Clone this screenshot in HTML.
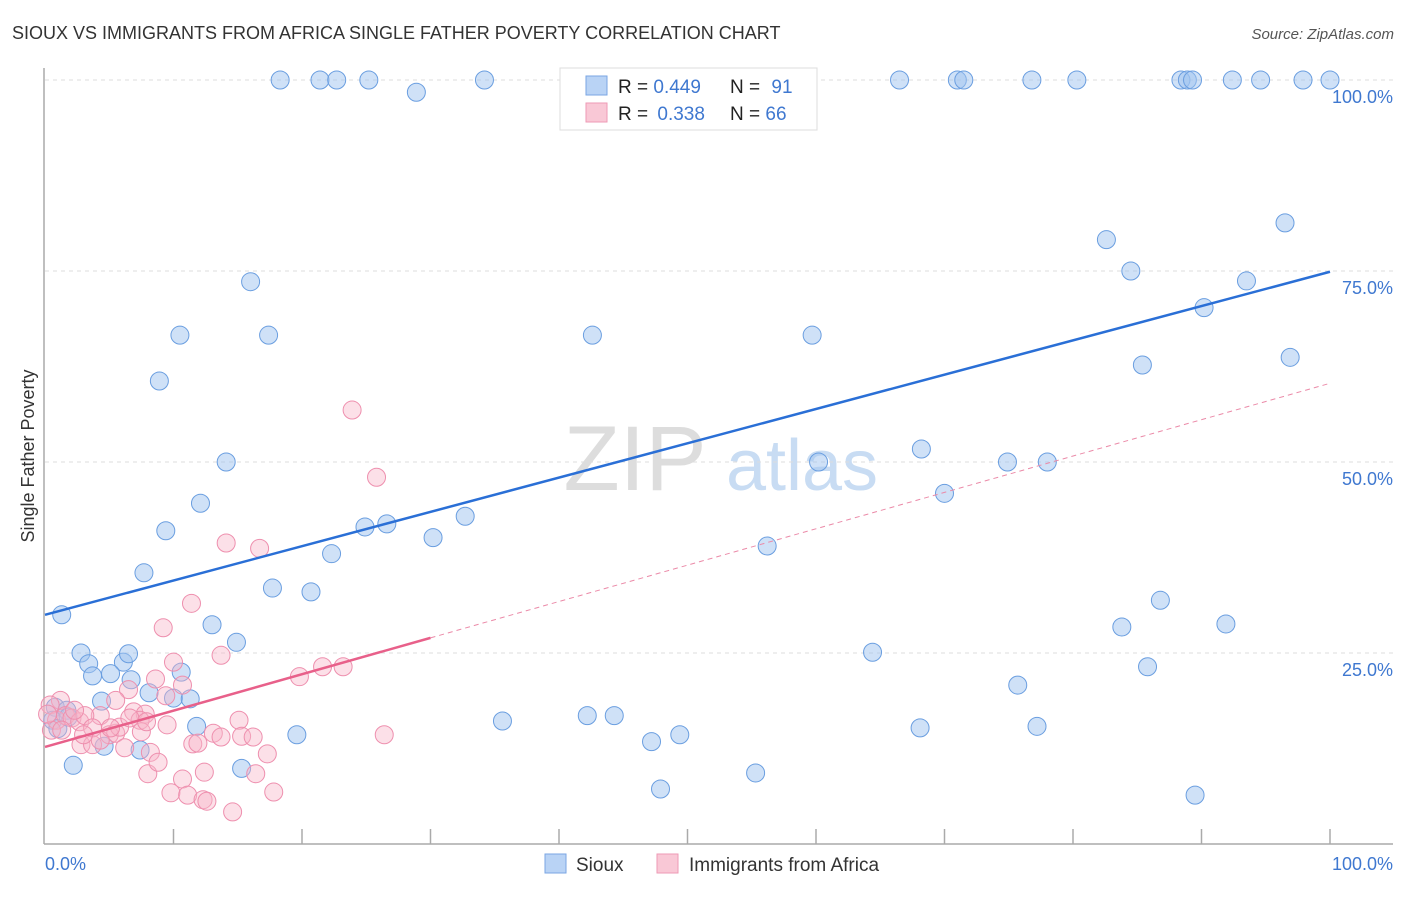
<!DOCTYPE html>
<html><head><meta charset="utf-8"><style>
body{margin:0;background:#fff;font-family:"Liberation Sans",sans-serif;}
svg text{font-family:"Liberation Sans",sans-serif;}
</style></head><body>
<svg width="1406" height="892" xmlns="http://www.w3.org/2000/svg">
<text x="12" y="39" font-size="18" fill="#333">SIOUX VS IMMIGRANTS FROM AFRICA SINGLE FATHER POVERTY CORRELATION CHART</text>
<text x="1394" y="39" font-size="15" fill="#555" font-style="italic" text-anchor="end">Source: ZipAtlas.com</text>
<g>
<text x="635" y="490" font-size="92" fill="#ddd" font-family="Liberation Serif,serif" text-anchor="middle">ZIP</text>
<text x="802" y="490" font-size="72" fill="#c8dcf3" text-anchor="middle">atlas</text>
</g>
<g id="grid"></g>
<g id="axes"></g>
<text transform="translate(34,456) rotate(-90)" font-size="18" fill="#333" text-anchor="middle">Single Father Poverty</text>
<g id="pts"></g>
<g id="trends"></g>
<g>
<rect x="560" y="68" width="257" height="62" fill="#fff" stroke="#ddd"/>
<rect x="586" y="76" width="21" height="19" fill="#b9d3f5" stroke="#7aa6e3"/>
<rect x="586" y="103" width="21" height="19" fill="#f9c8d6" stroke="#ee9ab5"/>
<text x="618" y="93" font-size="19" fill="#222">R = <tspan fill="#3f78d0">0.449</tspan></text>
<text x="730" y="93" font-size="19" fill="#222">N = <tspan fill="#3f78d0" dx="6">91</tspan></text>
<text x="618" y="120" font-size="19" fill="#222">R = <tspan fill="#3f78d0" dx="4">0.338</tspan></text>
<text x="730" y="120" font-size="19" fill="#222">N = <tspan fill="#3f78d0">66</tspan></text>
</g>
<g>
<rect x="545" y="854" width="21" height="19" fill="#b9d3f5" stroke="#7aa6e3"/>
<text x="576" y="871" font-size="19" fill="#333">Sioux</text>
<rect x="657" y="854" width="21" height="19" fill="#f9c8d6" stroke="#ee9ab5"/>
<text x="689" y="871" font-size="19" fill="#333">Immigrants from Africa</text>
</g>
</svg>
<script>
const blueX=[18.3,21.4,22.7,25.2,28.9,34.2,46.5,51.9,66.5,71.0,71.5,76.8,80.3,88.4,88.9,89.3,92.4,94.6,97.9,100,16.0,10.5,17.4,8.9,14.1,12.1,9.4,7.7,1.3,2.8,3.4,3.7,6.1,6.5,5.1,6.7,8.1,10.0,11.3,4.4,10.6,13.0,14.9,17.7,20.7,22.3,24.9,26.6,30.2,32.7,42.6,59.7,82.6,84.5,96.5,93.5,90.2,85.4,96.9,68.2,74.9,78.0,60.2,70.0,56.2,86.8,83.8,91.9,64.4,85.8,75.7,35.6,42.2,44.3,47.2,49.4,68.1,77.2,47.9,55.3,89.5,11.8,19.6,7.4,4.6,2.2,15.3,0.8,0.6,1.7,1.0,1.8];
const blueY=[100,100,100,100,98.4,100,100,100,100,100,100,100,100,100,100,100,100,100,100,100,73.6,66.6,66.6,60.6,50.0,44.6,41.0,35.5,30.0,25.0,23.6,22.0,23.8,24.9,22.3,21.5,19.8,19.1,19.0,18.7,22.5,28.7,26.4,33.5,33.0,38.0,41.5,41.9,40.1,42.9,66.6,66.6,79.1,75.0,81.3,73.7,70.2,62.7,63.7,51.7,50.0,50.0,50.0,45.9,39.0,31.9,28.4,28.8,25.1,23.2,20.8,16.1,16.8,16.8,13.4,14.3,15.2,15.4,7.2,9.3,6.4,15.4,14.3,12.3,12.8,10.3,9.9,17.9,16.2,17.5,15.1,16.6];
const pinkX=[23.9,25.8,14.1,16.7,11.4,9.2,10.0,13.7,10.7,8.6,6.5,19.8,21.6,23.2,5.5,6.9,7.8,9.5,9.4,4.3,5.0,5.5,7.4,7.5,7.9,11.5,11.9,13.1,13.7,15.1,15.3,16.2,17.3,12.4,8.2,8.0,8.8,10.7,9.8,11.1,12.3,12.6,14.6,17.8,16.4,26.4,2.8,3.7,1.2,0.4,0.9,1.6,2.1,2.7,3.1,0.5,1.3,2.3,3.7,4.3,5.8,6.6,3.0,0.2,6.2,5.1];
const pinkY=[56.8,48.0,39.4,38.7,31.5,28.3,23.8,24.7,20.8,21.6,20.2,21.9,23.2,23.2,18.8,17.3,17.0,15.6,19.4,16.8,14.3,14.5,16.2,14.7,16.0,13.1,13.2,14.5,14.0,16.2,14.1,14.0,11.8,9.4,12.0,9.2,10.7,8.5,6.7,6.4,5.8,5.6,4.2,6.8,9.2,14.3,13.0,13.0,18.8,18.2,16.2,16.8,16.5,16.0,16.8,14.9,14.9,17.5,15.2,13.6,15.3,16.5,14.3,17.0,12.6,15.2];
const blueTrend=[30.0,74.9];
const pinkTrend=[12.7,60.3];
const pinkSolidEnd=30;
const yTicks=[25,50,75,100];
const yTickLabels=["25.0%","50.0%","75.0%","100.0%"];
const xTicks=[10,20,30,40,50,60,70,80,90,100];

const NS="http://www.w3.org/2000/svg";
const X=v=>45+v*12.85, Y=v=>844-v*7.64;
function mk(tag,attrs,parent){const e=document.createElementNS(NS,tag);for(const k in attrs)e.setAttribute(k,attrs[k]);parent.appendChild(e);return e;}
const grid=document.getElementById('grid'),axes=document.getElementById('axes'),pts=document.getElementById('pts'),tr=document.getElementById('trends');
yTicks.forEach((t,i)=>{
 const l=mk('line',{x1:45,x2:1393,y1:Y(t),y2:Y(t),stroke:'#ddd','stroke-dasharray':'4,4'},grid);
 
 
 const tx=mk('text',{x:1393,y:Y(t)+23,'font-size':18,fill:'#3f78d0','text-anchor':'end'},axes);
 tx.textContent=yTickLabels[i];
 
 
});
mk('line',{x1:44,x2:44,y1:68,y2:844,stroke:'#aaa','stroke-width':1.5},axes);
mk('line',{x1:44,x2:1393,y1:844,y2:844,stroke:'#aaa','stroke-width':1.5},axes);
xTicks.forEach(t=>{
 const l=mk('line',{x1:X(t),x2:X(t),y1:829,y2:844,stroke:'#aaa','stroke-width':1.5},axes);
 
 
});
const x0=mk('text',{x:45,y:870,'font-size':18,fill:'#3f78d0'},axes);x0.textContent='0.0%';


const x1=mk('text',{x:1393,y:870,'font-size':18,fill:'#3f78d0','text-anchor':'end'},axes);x1.textContent='100.0%';


blueX.forEach((v,i)=>{
 const c=mk('circle',{cx:X(v),cy:Y(blueY[i]),r:9,fill:'rgba(160,196,240,0.5)',stroke:'#6a9ee0','stroke-width':1},pts);
 
 
});
pinkX.forEach((v,i)=>{
 const c=mk('circle',{cx:X(v),cy:Y(pinkY[i]),r:9,fill:'rgba(248,180,200,0.42)',stroke:'#ee8fae','stroke-width':1},pts);
 
 
});
const bl=mk('line',{x1:X(0),y1:Y(blueTrend[0]),x2:X(100),y2:Y(blueTrend[1]),stroke:'#2a6fd6','stroke-width':2.5},tr);


const pAt=v=>pinkTrend[0]+(pinkTrend[1]-pinkTrend[0])*v/100;
const ps=mk('line',{x1:X(0),y1:Y(pinkTrend[0]),x2:X(pinkSolidEnd),y2:Y(pAt(pinkSolidEnd)),stroke:'#e8608a','stroke-width':2.5},tr);


const pd=mk('line',{x1:X(pinkSolidEnd),y1:Y(pAt(pinkSolidEnd)),x2:X(100),y2:Y(pinkTrend[1]),stroke:'#eb8aa8','stroke-width':1,'stroke-dasharray':'5,4'},tr);


</script>
</body></html>
